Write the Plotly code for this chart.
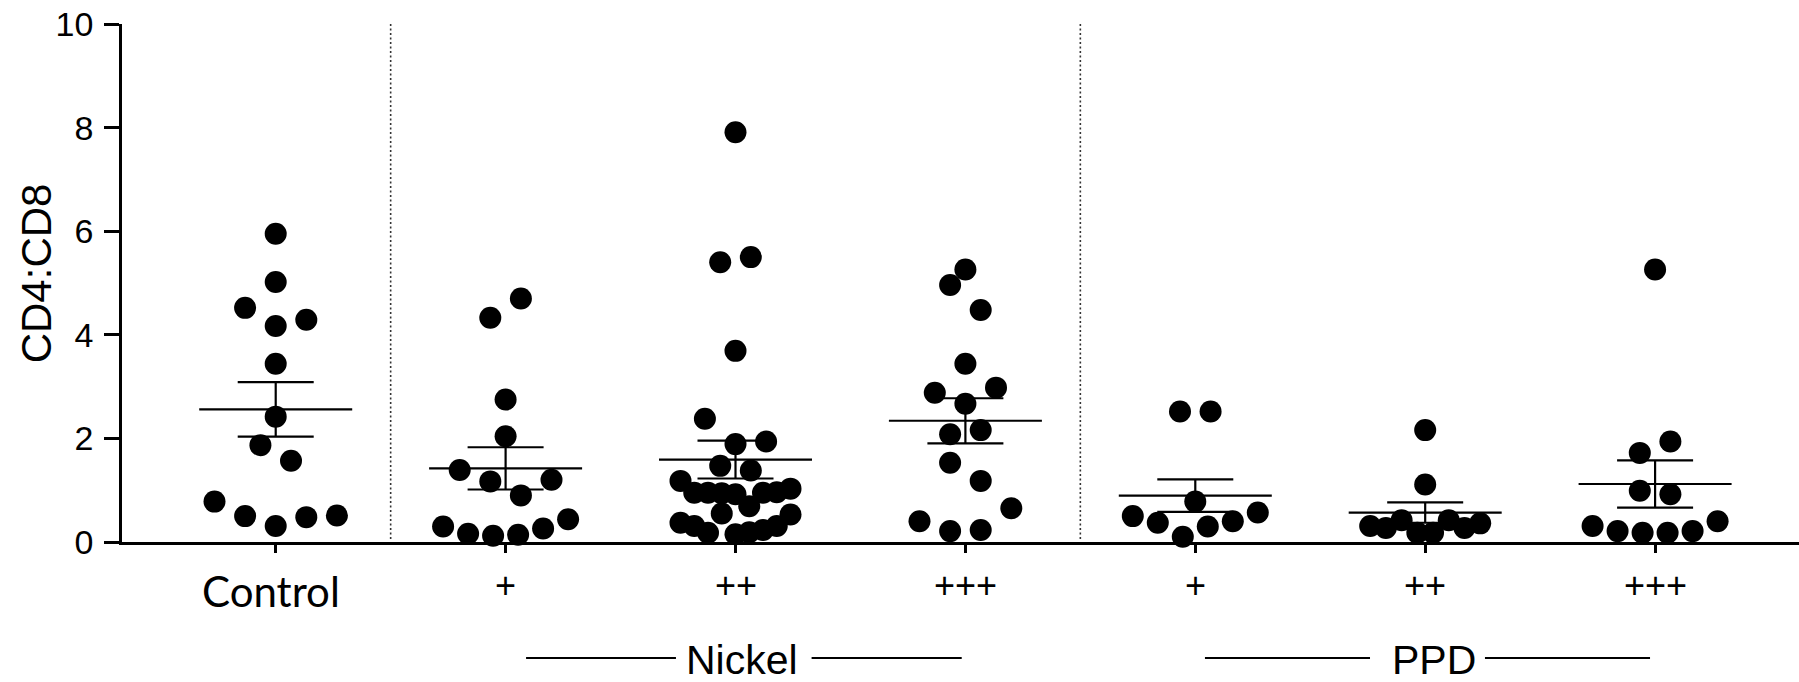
import numpy as np
import plotly.graph_objects as go

# ---------------- data (CD4:CD8 ratio per subject) ----------------
categories = ["Control", "+", "++", "+++", "+", "++", "+++"]
control    = [0.78, 0.50, 0.31, 0.48, 0.51, 1.87, 1.57, 2.42, 3.44, 4.52, 4.17, 4.29, 5.02, 5.95]
nickel_1   = [0.30, 0.16, 0.12, 0.14, 0.26, 0.44, 1.39, 1.17, 0.90, 1.20, 2.04, 2.75, 4.33, 4.70]
nickel_2   = [0.37, 0.31, 0.18, 0.55, 0.15, 0.19, 0.23, 0.31, 0.53,
              1.18, 0.95, 0.95, 0.94, 0.92, 0.69, 0.95, 0.96, 1.03,
              1.47, 1.38, 2.38, 1.89, 1.94, 3.69, 5.40, 5.50, 7.91]
nickel_3   = [0.40, 0.21, 0.23, 0.65, 1.53, 1.18, 2.08, 2.16, 2.88, 2.67, 2.98, 3.44, 4.96, 4.48, 5.26]
ppd_1      = [0.50, 0.37, 0.10, 0.30, 0.40, 0.57, 0.78, 2.52, 2.52]
ppd_2      = [0.31, 0.27, 0.42, 0.18, 0.18, 0.42, 0.27, 0.36, 1.11, 2.16]
ppd_3      = [0.31, 0.21, 0.18, 0.18, 0.21, 0.40, 0.99, 0.92, 1.72, 1.94, 5.26]
groups = [control, nickel_1, nickel_2, nickel_3, ppd_1, ppd_2, ppd_3]
y_ticks = [0, 2, 4, 6, 8, 10]
group_labels = ["Nickel", "PPD"]

# ---------------- layout constants ----------------
W, H = 1799, 682
ML, MR, MT, MB = 122, 0, 24, 140
XR = (-0.6686, 6.626)
PLOT_W = W - ML - MR
PLOT_H = H - MT - MB
PX_PER_X = PLOT_W / (XR[1] - XR[0])
Y0_PX = H - MB


def paper_y(py):
    return (Y0_PX - py) / PLOT_H


def swarm_offsets(values, h=0.5, step_px=30.6):
    """Prism-like row beeswarm: cluster values into rows, spread each row symmetrically."""
    vals = np.asarray(values, float)
    remaining = list(np.argsort(vals, kind="stable"))
    off = np.zeros(len(vals))
    while remaining:
        start = vals[remaining[0]]
        row = sorted(i for i in remaining if vals[i] <= start + h + 1e-9)
        n = len(row)
        span = 125 if n <= 6 else 110
        s = step_px if n < 2 else min(step_px, span / (n - 1))
        for k, i in enumerate(row):
            off[i] = (k - (n - 1) / 2) * s
        remaining = [i for i in remaining if i not in row]
    return off / PX_PER_X


fig = go.Figure()
line_style = dict(color="black", width=2.2)

for gi, vals in enumerate(groups):
    v = np.asarray(vals, float)
    xs = gi + swarm_offsets(v)
    fig.add_trace(go.Scatter(x=xs, y=v, mode="markers", cliponaxis=False,
                             marker=dict(symbol="circle", size=22, color="black", line=dict(width=0)),
                             showlegend=False, hoverinfo="y"))
    m = v.mean()
    sem = v.std(ddof=1) / np.sqrt(len(v))
    hw_mean, hw_cap = 76.5 / PX_PER_X, 38 / PX_PER_X
    fig.add_trace(go.Scatter(x=[gi - hw_mean, gi + hw_mean], y=[m, m], mode="lines",
                             line=line_style, showlegend=False, hoverinfo="skip"))
    for yy in (m - sem, m + sem):
        fig.add_trace(go.Scatter(x=[gi - hw_cap, gi + hw_cap], y=[yy, yy], mode="lines",
                                 line=line_style, showlegend=False, hoverinfo="skip"))
    fig.add_trace(go.Scatter(x=[gi, gi], y=[m - sem, m + sem], mode="lines",
                             line=line_style, showlegend=False, hoverinfo="skip"))

shapes = []
# dotted separators between Control / Nickel / PPD
for xsep in (0.5, 3.5):
    shapes.append(dict(type="line", xref="x", yref="y", x0=xsep, x1=xsep, y0=0.06, y1=10,
                       line=dict(color="#333333", width=1.6, dash="2px,2.5px")))

annotations = []
# category labels
for i, lab in enumerate(categories):
    if lab == "Control":
        annotations.append(dict(x=i - 0.02, y=paper_y(591), xref="x", yref="paper", text=lab,
                                showarrow=False, xanchor="center", yanchor="middle",
                                font=dict(family="Lato", size=42, color="black")))
    else:
        annotations.append(dict(x=i, y=paper_y(585.5), xref="x", yref="paper", text=lab,
                                showarrow=False, xanchor="center", yanchor="middle",
                                font=dict(family="Liberation Sans", size=36, color="black")))

# group labels with side lines
grp_specs = [(group_labels[0], 2.03, (1.089, 1.741), (2.331, 2.984)),
             (group_labels[1], 5.037, (4.042, 4.760), (5.260, 5.978))]
for lab, xc, left, right in grp_specs:
    annotations.append(dict(x=xc, y=paper_y(660), xref="x", yref="paper", text=lab,
                            showarrow=False, xanchor="center", yanchor="middle",
                            font=dict(family="Liberation Sans", size=41, color="black")))
    for a, b in (left, right):
        shapes.append(dict(type="line", xref="x", yref="paper", x0=a, x1=b,
                           y0=paper_y(658), y1=paper_y(658),
                           line=dict(color="black", width=2)))

# y-axis title
annotations.append(dict(x=(36 - ML) / PLOT_W, y=paper_y(273.3), xref="paper", yref="paper",
                        text="CD4:CD8", textangle=-90, showarrow=False,
                        xanchor="center", yanchor="middle",
                        font=dict(family="Liberation Sans", size=42, color="black")))

fig.update_layout(
    width=W, height=H, autosize=False,
    margin=dict(l=ML, r=MR, t=MT, b=MB, pad=0),
    paper_bgcolor="white", plot_bgcolor="white",
    xaxis=dict(range=list(XR), tickmode="array", tickvals=list(range(len(categories))),
               showticklabels=False, ticks="outside", ticklen=8, tickwidth=2.5, tickcolor="black",
               showline=True, linewidth=2.5, linecolor="black", showgrid=False, zeroline=False,
               fixedrange=True),
    yaxis=dict(range=[0, 10], tickmode="array", tickvals=y_ticks, ticktext=[str(t) for t in y_ticks],
               ticks="outside", ticklen=15, tickwidth=2.5, tickcolor="black",
               tickfont=dict(family="Liberation Sans", size=34, color="black"),
               ticklabelstandoff=4,
               showline=True, linewidth=2.5, linecolor="black", showgrid=False, zeroline=False,
               fixedrange=True),
    shapes=shapes, annotations=annotations,
)

fig.write_html("out.html", config={"displayModeBar": False},
               post_script="document.body.style.margin='0';document.body.style.overflow='hidden';")
